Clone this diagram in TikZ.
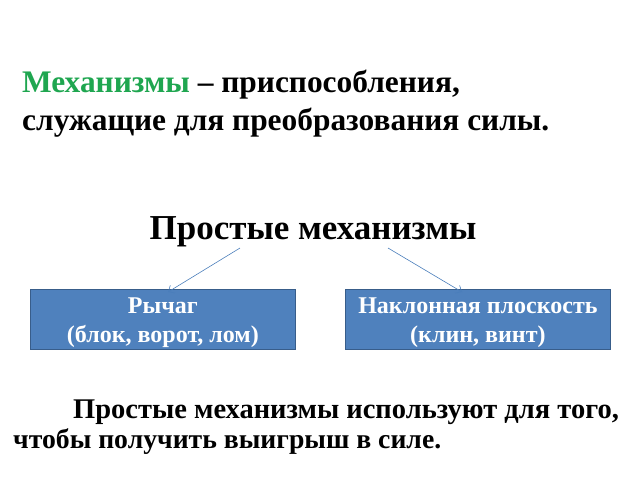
\documentclass[tikz,border=0pt]{standalone}
\usepackage{fontspec}
\setmainfont{Liberation Serif}
\usetikzlibrary{arrows.meta}
\definecolor{mgreen}{HTML}{1FA650}
\definecolor{boxfill}{HTML}{4F81BD}
\definecolor{boxline}{HTML}{385D8A}
\definecolor{arrowc}{HTML}{4A7EBB}
\tikzset{
  txt/.style={inner sep=0pt, anchor=base west, font=\bfseries},
  mbox/.style={draw=boxline, line width=0.8pt, fill=boxfill, minimum width=265pt, minimum height=60pt, inner sep=0pt},
  boxtext/.style={inner sep=0pt, anchor=base, text=white, font=\bfseries\fontsize{24}{26}\selectfont},
  conn/.style={draw=arrowc, line width=0.6pt, -{Straight Barb[length=5pt,width=9pt]}}
}
\begin{document}
\begin{tikzpicture}[x=1pt,y=-1pt]
\useasboundingbox (0,0) rectangle (640,480);
\node[txt, font=\bfseries\fontsize{31.4}{34}\selectfont] (l1) at (22,92) {\textcolor{mgreen}{Механизмы} – приспособления,};
\node[txt, font=\bfseries\fontsize{31.4}{34}\selectfont] (l2) at (22,130) {служащие для преобразования силы.};
\node[inner sep=0pt, anchor=base, font=\bfseries\fontsize{35}{38}\selectfont] (title) at (313,239) {Простые механизмы};
\node[mbox, anchor=north west] (b1) at (30,289) {};
\node[mbox, anchor=north west] (b2) at (345,289) {};
\node[boxtext] (b1a) at (b1.center |- 0,313) {Рычаг};
\node[boxtext] (b1b) at (b1.center |- 0,342) {(блок, ворот, лом)};
\node[boxtext] (b2a) at (b2.center |- 0,313) {Наклонная плоскость};
\node[boxtext] (b2b) at (b2.center |- 0,342) {(клин, винт)};
\coordinate (s1) at (240,248);
\coordinate (e1) at (168,292);
\coordinate (s2) at (388,248);
\coordinate (e2) at (462,292);
\draw[conn] (s1) -- (e1);
\draw[conn] (s2) -- (e2);
\node[txt, font=\bfseries\fontsize{28.5}{30}\selectfont] (p1) at (73,418) {Простые механизмы используют для того,};
\node[txt, font=\bfseries\fontsize{27.7}{30}\selectfont] (p2) at (13,448) {чтобы получить выигрыш в силе.};
\end{tikzpicture}
\end{document}
